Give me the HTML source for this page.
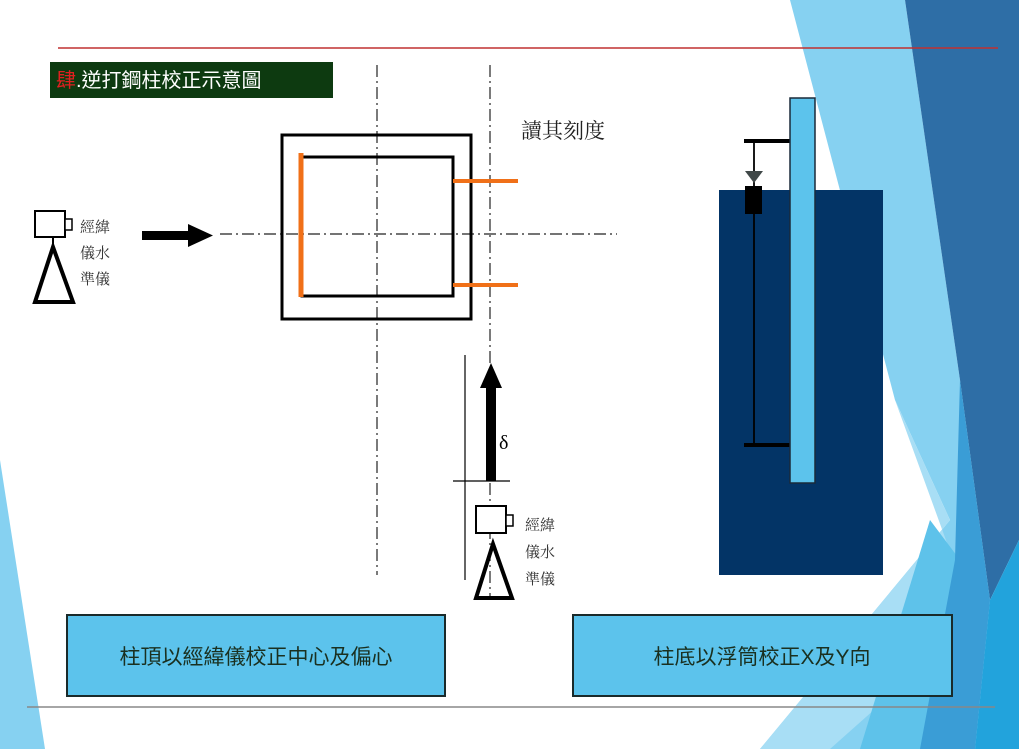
<!DOCTYPE html>
<html><head><meta charset="utf-8"><style>
html,body{margin:0;padding:0;background:#fff;}
body{width:1019px;height:749px;overflow:hidden;position:relative;font-family:"Liberation Sans","Noto Sans CJK TC",sans-serif;}
svg{position:absolute;left:0;top:0;}
</style></head><body>
<svg width="1019" height="749" viewBox="0 0 1019 749" xmlns="http://www.w3.org/2000/svg">
<!-- background shapes -->
<polygon points="790,0 905,0 960,380 990,600 975,749 760,749 950,520 895,400" fill="#86d1f1"/>
<polygon points="895,400 950,520 760,749 830,749 975,620" fill="#a8def5"/>
<polygon points="930,520 990,600 975,749 860,749" fill="#5ec2ea"/>
<polygon points="905,0 1019,0 1019,540 990,600 960,380" fill="#2e6ea6"/>
<polygon points="960,380 990,600 975,749 920,749 955,560" fill="#3a9dd6"/>
<polygon points="1019,540 1019,749 975,749 990,600" fill="#22a3dc"/>
<polygon points="0,460 45,749 0,749" fill="#86d1f1"/>
<!-- lines -->
<line x1="58" y1="48" x2="998" y2="48" stroke="#c03030" stroke-width="1.5"/>
<line x1="27" y1="707" x2="995" y2="707" stroke="#888" stroke-width="1.5"/>
<!-- title -->
<rect x="50" y="62" width="283" height="36" fill="#0d3a10"/>
<text x="56" y="87" font-size="20" fill="#fff"><tspan fill="#e02020">肆</tspan>.逆打鋼柱校正示意圖</text>
<!-- dash-dot center lines -->
<g stroke="#222" stroke-width="1.2" stroke-dasharray="12,4,2,4" fill="none">
<line x1="377" y1="65" x2="377" y2="575"/>
<line x1="490" y1="65" x2="490" y2="600"/>
<line x1="220" y1="234" x2="617" y2="234"/>
</g>
<!-- rectangles -->
<rect x="282" y="135" width="189" height="184" fill="none" stroke="#000" stroke-width="3"/>
<rect x="302" y="157" width="151" height="139" fill="none" stroke="#000" stroke-width="3"/>
<line x1="301" y1="153" x2="301" y2="297" stroke="#f07018" stroke-width="5"/>
<line x1="453" y1="181" x2="518" y2="181" stroke="#f07018" stroke-width="4"/>
<line x1="453" y1="285" x2="518" y2="285" stroke="#f07018" stroke-width="4"/>
<text x="521" y="138" font-size="21" fill="#222" font-family="Liberation Serif, Noto Serif CJK SC, serif">讀其刻度</text>
<!-- left theodolite -->
<rect x="35" y="211" width="30" height="26" fill="#fff" stroke="#000" stroke-width="2"/>
<rect x="65" y="219" width="7" height="11" fill="#fff" stroke="#000" stroke-width="1.5"/>
<line x1="53" y1="237" x2="53" y2="248" stroke="#000" stroke-width="2"/>
<polygon points="53,247 35,302 73,302" fill="none" stroke="#000" stroke-width="4"/>
<g font-size="15" fill="#333" font-family="Liberation Serif, Noto Serif CJK SC, serif">
<text x="80" y="232">經緯</text><text x="80" y="258">儀水</text><text x="80" y="284">準儀</text>
</g>
<rect x="142" y="231" width="48" height="9" fill="#000"/>
<polygon points="188,224 213,235.5 188,247" fill="#000"/>
<!-- bottom theodolite -->
<line x1="465" y1="355" x2="465" y2="580" stroke="#000" stroke-width="1.2"/>
<line x1="453" y1="481" x2="510" y2="481" stroke="#000" stroke-width="1.2"/>
<rect x="486" y="385" width="10" height="96" fill="#000"/>
<polygon points="491,363 480,388 502,388" fill="#000"/>
<text x="499" y="449" font-size="20" fill="#000" font-family="Liberation Serif, serif">δ</text>
<rect x="476" y="506" width="30" height="27" fill="#fff" stroke="#000" stroke-width="2"/>
<rect x="506" y="515" width="7" height="11" fill="#fff" stroke="#000" stroke-width="1.5"/>
<polygon points="493,544 476,598 512,598" fill="none" stroke="#000" stroke-width="4"/>
<g font-size="15" fill="#333" font-family="Liberation Serif, Noto Serif CJK SC, serif">
<text x="525" y="530">經緯</text><text x="525" y="557">儀水</text><text x="525" y="584">準儀</text>
</g>
<!-- right float diagram -->
<rect x="719" y="190" width="164" height="385" fill="#033466"/>
<line x1="744" y1="141" x2="790" y2="141" stroke="#000" stroke-width="4"/>
<line x1="744" y1="445" x2="790" y2="445" stroke="#000" stroke-width="4"/>
<line x1="754" y1="141" x2="754" y2="445" stroke="#000" stroke-width="1.8"/>
<polygon points="745,171 763,171 754,183" fill="#404848"/>
<rect x="745" y="186" width="17" height="28" fill="#000"/>
<rect x="790" y="98" width="25" height="385" fill="#5cc3ec" stroke="#1a2a3a" stroke-width="1.5"/>
<!-- bottom boxes -->
<rect x="67" y="615" width="378" height="81" fill="#5cc3ec" stroke="#1a2a2a" stroke-width="2"/>
<text x="256" y="664" font-size="21" fill="#1a3020" text-anchor="middle">柱頂以經緯儀校正中心及偏心</text>
<rect x="573" y="615" width="379" height="81" fill="#5cc3ec" stroke="#1a2a2a" stroke-width="2"/>
<text x="762" y="664" font-size="21" fill="#1a3020" text-anchor="middle">柱底以浮筒校正X及Y向</text>
</svg>
</body></html>
